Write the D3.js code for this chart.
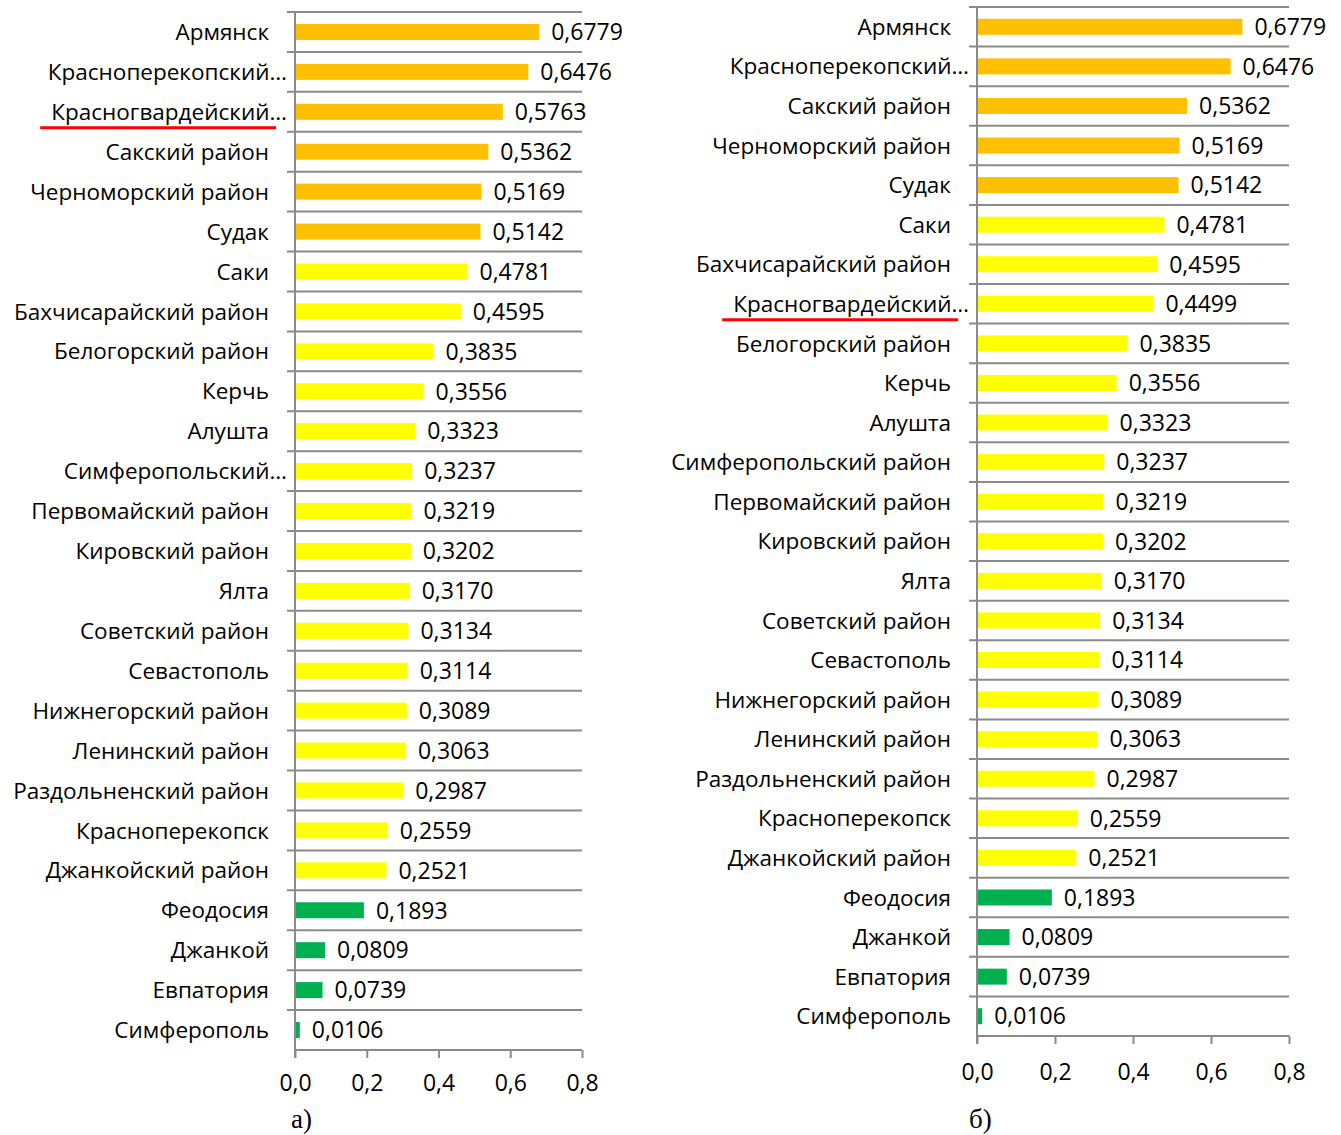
<!DOCTYPE html>
<html>
<head>
<meta charset="utf-8">
<script src="https://cdn.jsdelivr.net/npm/d3@7"></script>
<style>
  body { margin: 0; background: #fff; }
  svg text { font-family: "Open Sans", sans-serif; fill: #000; }
</style>
</head>
<body>
<svg id="chart" width="1341" height="1135"></svg>
<script>
// panel a)
const namesA = ["Армянск", "Красноперекопский…", "Красногвардейский…", "Сакский район", "Черноморский район", "Судак",
  "Саки", "Бахчисарайский район", "Белогорский район", "Керчь", "Алушта", "Симферопольский…",
  "Первомайский район", "Кировский район", "Ялта", "Советский район", "Севастополь", "Нижнегорский район",
  "Ленинский район", "Раздольненский район", "Красноперекопск", "Джанкойский район", "Феодосия",
  "Джанкой", "Евпатория", "Симферополь"];
const valuesA = [0.6779, 0.6476, 0.5763, 0.5362, 0.5169, 0.5142, 0.4781, 0.4595, 0.3835, 0.3556, 0.3323, 0.3237,
  0.3219, 0.3202, 0.3170, 0.3134, 0.3114, 0.3089, 0.3063, 0.2987, 0.2559, 0.2521, 0.1893, 0.0809, 0.0739, 0.0106];

// panel б)
const namesB = ["Армянск", "Красноперекопский…", "Сакский район", "Черноморский район", "Судак", "Саки",
  "Бахчисарайский район", "Красногвардейский…", "Белогорский район", "Керчь", "Алушта", "Симферопольский район",
  "Первомайский район", "Кировский район", "Ялта", "Советский район", "Севастополь", "Нижнегорский район",
  "Ленинский район", "Раздольненский район", "Красноперекопск", "Джанкойский район", "Феодосия",
  "Джанкой", "Евпатория", "Симферополь"];
const valuesB = [0.6779, 0.6476, 0.5362, 0.5169, 0.5142, 0.4781, 0.4595, 0.4499, 0.3835, 0.3556, 0.3323, 0.3237,
  0.3219, 0.3202, 0.3170, 0.3134, 0.3114, 0.3089, 0.3063, 0.2987, 0.2559, 0.2521, 0.1893, 0.0809, 0.0739, 0.0106];

const xTicks = [0, 0.2, 0.4, 0.6, 0.8];
const highlighted = "Красногвардейский…";

const svg = d3.select("#chart");
const gridColor = "#8a8a8a";
const catSize = 22.5, numSize = 23;
const fmt = v => d3.format(".4f")(v).replace(".", ",");
const colorOf = v => v >= 0.5 ? "#ffc000" : (v >= 0.2 ? "#ffff00" : "#00b050");

function drawPanel(names, values, opts) {
  const x = d3.scaleLinear().domain([0, 0.8]).range([opts.x0, opts.x1]);
  const y = d3.scaleBand().domain(names).range([opts.y0, opts.y1]);
  const g = svg.append("g");

  // horizontal grid (category boundaries)
  const bounds = names.map(n => y(n));
  g.selectAll("line.grid").data(bounds).join("line")
    .attr("x1", opts.x0 - 8).attr("x2", x(0.8))
    .attr("y1", d => d).attr("y2", d => d)
    .attr("stroke", gridColor).attr("stroke-width", 2);

  // bars
  g.selectAll("rect.bar").data(values).join("rect")
    .attr("x", x(0) + 1)
    .attr("y", (d, i) => y(names[i]) + y.bandwidth() / 2 - 8)
    .attr("width", d => x(d) - x(0))
    .attr("height", 16)
    .attr("fill", d => colorOf(d));

  // value labels
  g.selectAll("text.val").data(values).join("text")
    .attr("x", d => x(d) + 13)
    .attr("y", (d, i) => y(names[i]) + y.bandwidth() / 2)
    .attr("dy", "0.36em")
    .attr("font-size", numSize)
    .text(d => fmt(d));

  // category labels
  g.selectAll("text.cat").data(names).join("text")
    .attr("x", d => d.endsWith("…") ? opts.x0 - 8 : opts.x0 - 26)
    .attr("y", d => y(d) + y.bandwidth() / 2)
    .attr("dy", "0.36em")
    .attr("text-anchor", "end")
    .attr("font-size", catSize)
    .text(d => d);

  // red underline of the highlighted label
  const hl = g.selectAll("text").filter(d => d === highlighted);
  hl.each(function () {
    const bb = this.getBBox();
    g.append("line")
      .attr("x1", bb.x - 11).attr("x2", bb.x + bb.width - 11)
      .attr("y1", y(highlighted) + y.bandwidth() / 2 + 16)
      .attr("y2", y(highlighted) + y.bandwidth() / 2 + 16)
      .attr("stroke", "#ff0000").attr("stroke-width", 3);
  });

  // x axis
  const axis = g.append("g")
    .attr("transform", `translate(0,${opts.y1})`)
    .call(d3.axisBottom(x).tickValues(xTicks).tickSize(8).tickPadding(opts.tickPad)
      .tickFormat(d => d3.format(".1f")(d).replace(".", ",")));
  axis.select(".domain").attr("stroke", gridColor).attr("stroke-width", 2)
    .attr("d", `M${x(0)},0H${x(0.8)}`);
  axis.selectAll(".tick line").attr("stroke", gridColor).attr("stroke-width", 2);
  axis.selectAll(".tick text").attr("font-size", numSize).attr("font-family", "'Open Sans', sans-serif").attr("fill", "#000");

  // vertical axis line
  g.append("line")
    .attr("x1", x(0)).attr("x2", x(0))
    .attr("y1", opts.y0).attr("y2", opts.y1 + 8)
    .attr("stroke", gridColor).attr("stroke-width", 2);

  // panel caption
  g.append("text")
    .attr("x", opts.capX).attr("y", opts.capY)
    .style("font-family", "'Liberation Serif', 'Times New Roman', serif")
    .attr("font-size", 27)
    .text(opts.caption);
}

drawPanel(namesA, valuesA, {x0: 295, x1: 582, y0: 12, y1: 1050, tickPad: 17, capX: 291, capY: 1128, caption: "а)"});
drawPanel(namesB, valuesB, {x0: 977, x1: 1289, y0: 7, y1: 1036, tickPad: 20, capX: 969, capY: 1128, caption: "б)"});
</script>
</body>
</html>
